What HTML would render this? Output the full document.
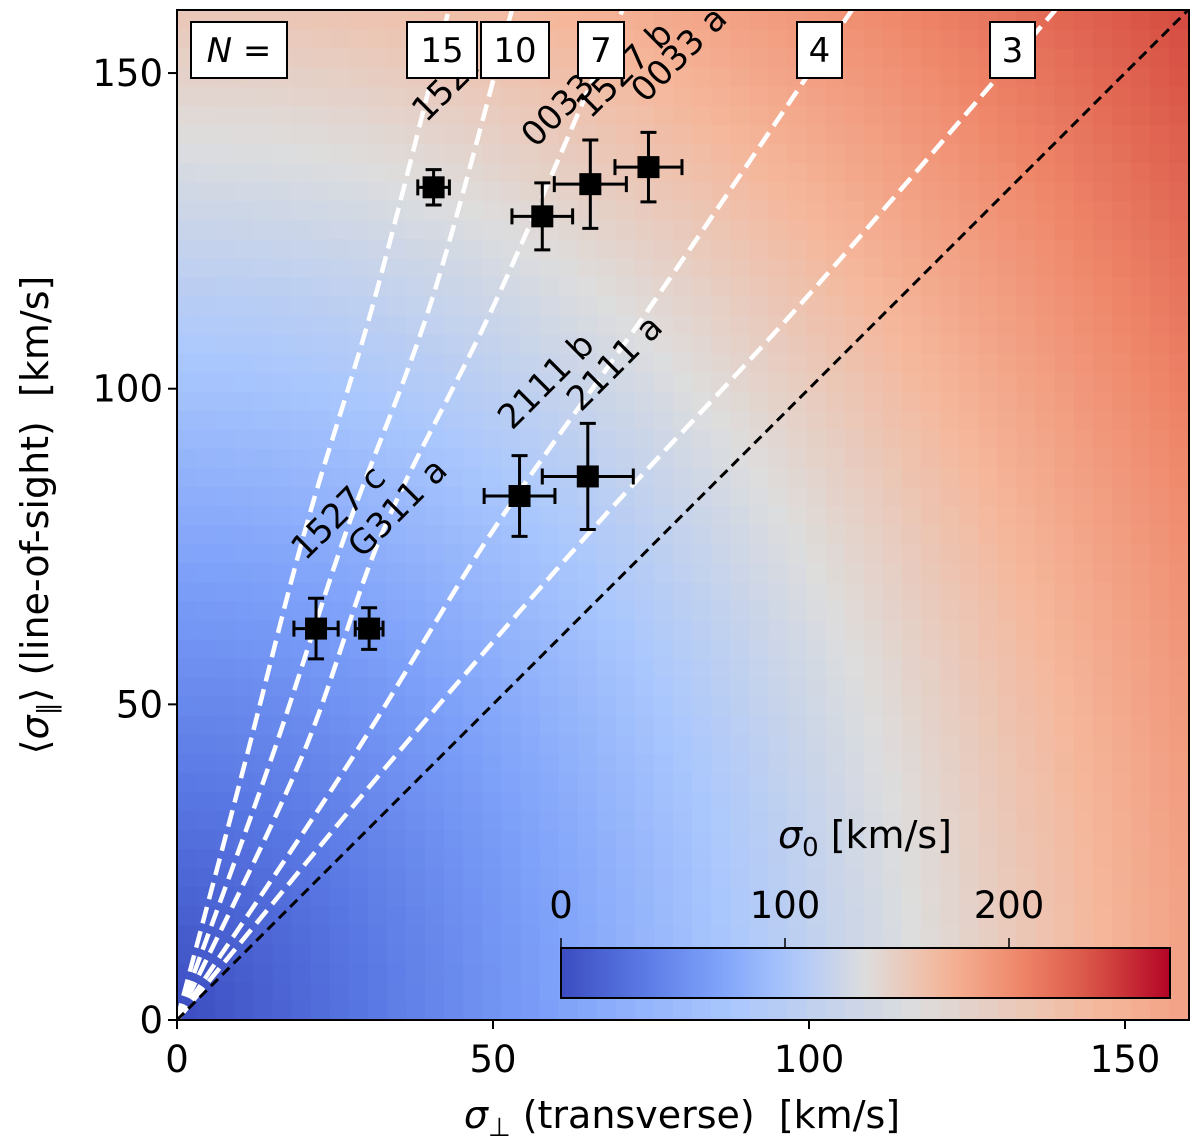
<!DOCTYPE html>
<html><head><meta charset="utf-8"><style>
html,body{margin:0;padding:0;background:#fff;}
svg{display:block;font-family:"DejaVu Sans","Liberation Sans",sans-serif;}
</style></head><body>
<svg id="chart" width="1200" height="1145" viewBox="0 0 1200 1145">
<defs>
<clipPath id="pc"><rect x="177" y="10" width="1012" height="1010"/></clipPath>
<linearGradient id="cbg" x1="0" x2="1" y1="0" y2="0"></linearGradient>
</defs>
<g id="heat" clip-path="url(#pc)"></g>
<g id="curves" clip-path="url(#pc)"></g>
<g id="labels" clip-path="url(#pc)"></g>
<g id="pts"></g>
<g id="boxes"></g>
<g id="cbar"></g>
<rect x="177" y="10" width="1012" height="1010" fill="none" stroke="#000" stroke-width="2"/>
<g id="axes"></g>
<text x="682" y="1128" font-size="38" text-anchor="middle"><tspan font-style="italic">σ</tspan><tspan font-size="26" dy="8">⊥</tspan><tspan dy="-8" xml:space="preserve"> (transverse)  [km/s]</tspan></text>
<text transform="translate(48,515) rotate(-90)" font-size="38" text-anchor="middle" xml:space="preserve">⟨<tspan font-style="italic">σ</tspan><tspan font-size="26" dy="8">∥</tspan><tspan dy="-8">⟩ (line-of-sight)  [km/s]</tspan></text>
</svg>
<script>
const NS="http://www.w3.org/2000/svg";
// ---- data ----
const xTicks=[0,50,100,150];
const yTicks=[0,50,100,150];
const cbTicks=[0,100,200];
const curveN=[15,10,7,4,3];
const curvePar=[0,41.3,77.7,114,160];
const curvePerp=[[0,10.9,20.3,31.2,43],[0,14.9,26.9,40.3,53],[0,19.6,32.7,50.5,70.5],[0,27.6,50.1,75.6,106.8],[0,34.1,65.7,99.2,139]];
const ptPerp=[40.6,57.8,65.4,74.6,54.2,65,22,30.4];
const ptPar=[131.9,127.3,132.4,135.1,83.0,86.1,62,62];
const ptErrPerp=[2.5,4.8,5.7,5.3,5.6,7.2,3.5,2.2];
const ptErrPar=[2.8,5.3,7,5.5,6.4,8.4,4.8,3.3];
const labelText=["1527 c","G311 a","2111 b","2111 a","0033 b","1527 b","0033 a","1527 a"];
const labelPerp=[20.3,29.3,53,63.9,56.7,65.4,74.1,39.4];
const labelPar=[72.6,73,93.3,96.2,138,142.6,145.1,142];
const vmax=272;
// ---- scales ----
const X=v=>177+v*6.32, Y=v=>1020-v*6.313;
const cmapS=[0,.125,.25,.375,.5,.625,.75,.875,1];
const cmapC=[[59,76,192],[88,118,226],[124,159,249],[170,199,253],[221,221,221],[245,183,155],[239,136,107],[216,82,68],[180,4,38]];
function cmap(t){t=Math.max(0,Math.min(1,t));for(let i=0;i<8;i++){if(t<=cmapS[i+1]){const f=(t-cmapS[i])/(cmapS[i+1]-cmapS[i]);const c=cmapC[i].map((v,k)=>Math.round(v+(cmapC[i+1][k]-v)*f));return `rgb(${c})`;}}}
function el(t,a,p){const e=document.createElementNS(NS,t);for(const k in a)e.setAttribute(k,a[k]);p.appendChild(e);return e;}
// heatmap
const heat=document.getElementById('heat');const nc=53,cs=160/nc;
for(let i=0;i<nc;i++)for(let j=0;j<nc;j++){const sx=(i+.5)*cs,sy=(j+.5)*cs;const s0=Math.sqrt(1.35*sx*sx+0.95*sy*sy);
const r=el('rect',{x:X(i*cs),y:Y((j+1)*cs),width:cs*6.32+0.6,height:cs*6.313+0.6,fill:cmap(s0/vmax)},heat);

}
// curves (smooth catmull-rom)
function smooth(pts){let d='M'+pts[0][0]+','+pts[0][1];for(let i=0;i<pts.length-1;i++){const p0=pts[Math.max(0,i-1)],p1=pts[i],p2=pts[i+1],p3=pts[Math.min(pts.length-1,i+2)];
d+=`C${p1[0]+(p2[0]-p0[0])/6},${p1[1]+(p2[1]-p0[1])/6} ${p2[0]-(p3[0]-p1[0])/6},${p2[1]-(p3[1]-p1[1])/6} ${p2[0]},${p2[1]}`;}return d;}
const cg=document.getElementById('curves');
curveN.forEach((n,i)=>{const pts=curvePerp[i].map((p,k)=>[X(p),Y(curvePar[k])]);
const p=el('path',{d:smooth(pts),fill:'none',stroke:'#fff','stroke-width':4.5,'stroke-dasharray':'17,8'},cg);

});
const diag=el('line',{x1:X(0),y1:Y(0),x2:X(160),y2:Y(160),stroke:'#000','stroke-width':3,'stroke-dasharray':'10,6'},cg);


// labels
const lg=document.getElementById('labels');
labelText.forEach((t,i)=>{const e=el('text',{transform:`translate(${X(labelPerp[i])},${Y(labelPar[i])}) rotate(-45)`,'font-size':34},lg);e.textContent=t;

});
// points
const pg=document.getElementById('pts');
ptPerp.forEach((p,i)=>{const g=el('g',{},pg);


const x=X(p),y=Y(ptPar[i]),ex=ptErrPerp[i]*6.32,ey=ptErrPar[i]*6.313;
el('path',{d:`M${x-ex},${y}H${x+ex}M${x},${y-ey}V${y+ey}M${x-ex},${y-8}v16M${x+ex},${y-8}v16M${x-8},${y-ey}h16M${x-8},${y+ey}h16`,stroke:'#000','stroke-width':3,fill:'none'},g);
el('rect',{x:x-11,y:y-11,width:22,height:22,fill:'#000'},g);});
// boxes
const bg=document.getElementById('boxes');
const boxT=["N =","15","10","7","4","3"],boxX=[191,407,481,578,797,990],boxW=[96,70,68,46,45,45];
boxT.forEach((t,i)=>{const g=el('g',{},bg);


el('rect',{x:boxX[i],y:22,width:boxW[i],height:56,fill:'#fff',stroke:'#000','stroke-width':2},g);
const tx=el('text',{x:boxX[i]+boxW[i]/2,y:62,'font-size':34,'text-anchor':'middle'},g);
if(i){tx.textContent=t;}else{tx.innerHTML='<tspan font-style="italic">N</tspan> =';}});
// colorbar
const grad=document.getElementById('cbg');
for(let k=0;k<=20;k++)el('stop',{offset:k/20,'stop-color':cmap(k/20)},grad);
const cb=document.getElementById('cbar');const CX=v=>561+v*2.24;
el('rect',{x:561,y:948,width:609,height:50,fill:'url(#cbg)',stroke:'#000','stroke-width':2},cb);
cbTicks.forEach(v=>{el('line',{x1:CX(v),x2:CX(v),y1:948,y2:938,stroke:'#000','stroke-width':1.5},cb);
const t=el('text',{x:CX(v),y:918,'font-size':37,'text-anchor':'middle'},cb);t.textContent=v;

});
const ct=el('text',{x:865,y:848,'font-size':38,'text-anchor':'middle'},cb);
ct.setAttribute('xml:space','preserve');
ct.innerHTML='<tspan font-style="italic">σ</tspan><tspan font-size="26" dy="8">0</tspan><tspan dy="-8">  [km/s]</tspan>';


// axes
const ag=document.getElementById('axes');
xTicks.forEach(v=>{el('line',{x1:X(v),x2:X(v),y1:1020,y2:1029,stroke:'#000','stroke-width':2},ag);
const t=el('text',{x:X(v),y:1072,'font-size':37,'text-anchor':'middle'},ag);t.textContent=v;

});
yTicks.forEach(v=>{el('line',{x1:168,x2:177,y1:Y(v),y2:Y(v),stroke:'#000','stroke-width':2},ag);
const t=el('text',{x:163,y:Y(v)+13,'font-size':37,'text-anchor':'end'},ag);t.textContent=v;

});
</script>
</body></html>
